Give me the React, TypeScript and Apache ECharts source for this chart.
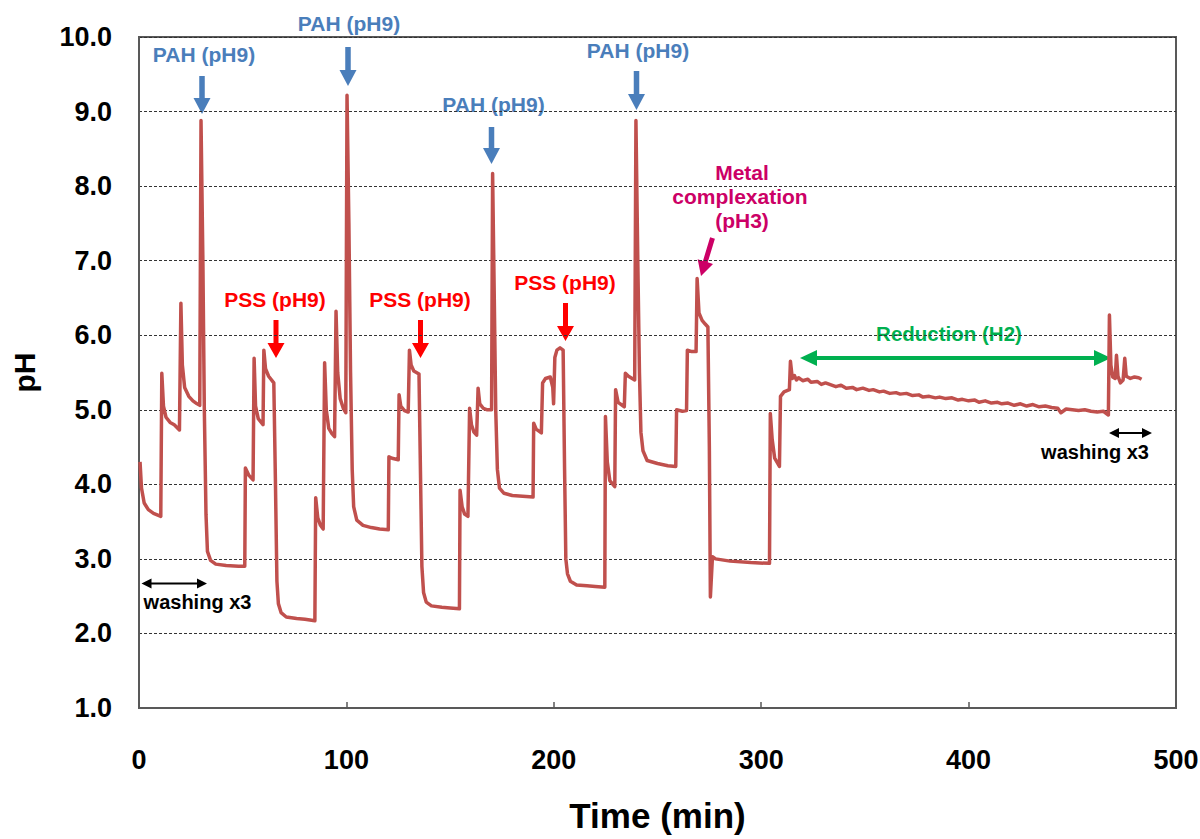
import React, { useEffect, useRef } from "react";
import * as echarts from "echarts";

// ---- data (time in min, pH) ----
const time = [
  0.5, 1.2, 2.5, 4.5, 7, 10.5,
  11.0, 11.8, 13, 15, 17, 19.5,
  20.2, 20.9, 22, 24, 26, 28, 29.3,
  29.9, 30.8, 31.5, 32.3, 33, 34.5, 37, 42, 48, 51.0,
  51.3, 53, 55,
  55.5, 56.2, 57.5, 59.8,
  60.2, 61, 62.5, 65,
  65.8, 66.5, 67.2, 68.5, 71, 76, 80, 84.8,
  85.2, 86.2, 87.5, 88.8,
  89.5, 90.3, 91.5, 93, 94.3,
  95.0, 95.8, 97, 98.5, 99.7,
  100.3, 101.2, 102, 102.8, 103.5, 105, 108, 112, 116, 120.2,
  120.5, 122, 125,
  125.4, 126.2, 128, 129.8,
  130.4, 131.2, 132.5, 135,
  135.8, 136.4, 137.2, 138.5, 141, 146, 150, 154.5,
  154.8, 155.8, 157, 158.6,
  159.4, 160.3, 161.5, 162.8,
  163.5, 164.3, 166, 168, 170,
  170.5, 171.3, 172, 172.8, 173.8, 176, 180, 185, 190,
  190.3, 191.5, 194,
  194.6, 196, 198.3, 199.5, 199.9, 200.5, 201.5, 203, 204.5,
  205.2, 205.8, 206.6, 208, 211, 216, 220, 224.6,
  224.9, 225.8, 227, 229.4,
  229.8, 231, 234,
  234.5, 236, 239,
  239.6, 240.5, 241.3, 242, 243, 245, 250, 255, 258.8,
  259.2, 262, 264,
  264.4, 266.5, 268.6,
  269.1, 270, 271.5, 273, 274.3,
  275, 275.5, 276.5, 278, 285, 295, 304,
  304.4, 305.3, 306.5, 308.8,
  309.3, 311, 313.6,
  314.1, 315, 316, 317,
  318, 320, 322.5, 324, 327, 329, 331, 334, 336, 338.5, 341, 344, 346, 349, 352,
  354, 357, 359, 362, 365, 367, 370, 373, 376, 378, 381, 384, 386, 389, 392,
  395, 397, 400, 403, 405, 408, 411, 414, 416, 419, 422, 425, 428, 431, 434,
  437, 440, 443, 444.5, 447, 450, 453, 456, 459, 462, 465, 467.4,
  467.9, 468.6, 469.5, 470.7, 471.3, 472.0, 473.2, 474.5, 475.3, 476, 478, 480, 482, 483.4,
];

const ph = [
  4.30, 3.95, 3.75, 3.66, 3.61, 3.57,
  5.49, 5.05, 4.90, 4.83, 4.80, 4.73,
  6.43, 5.60, 5.30, 5.18, 5.12, 5.08, 5.06,
  8.88, 7.0, 5.0, 3.6, 3.1, 2.98, 2.93, 2.91, 2.90, 2.90,
  4.22, 4.12, 4.06,
  5.69, 5.05, 4.88, 4.80,
  5.80, 5.55, 5.45, 5.36,
  4.0, 2.7, 2.40, 2.28, 2.22, 2.20, 2.19, 2.17,
  3.82, 3.55, 3.45, 3.40,
  5.63, 5.0, 4.75, 4.68, 4.64,
  6.32, 5.50, 5.15, 5.02, 4.96,
  9.22, 7.5, 5.5, 4.2, 3.70, 3.52, 3.45, 3.42, 3.40, 3.39,
  4.37, 4.35, 4.33,
  5.20, 5.05, 4.99, 4.97,
  5.80, 5.60, 5.52, 5.48,
  4.0, 2.9, 2.55, 2.42, 2.37, 2.35, 2.34, 2.33,
  3.92, 3.70, 3.60, 3.57,
  5.02, 4.80, 4.70, 4.66,
  5.29, 5.08, 5.02, 5.00, 5.00,
  8.17, 6.5, 5.0, 4.2, 3.95, 3.88, 3.85, 3.84, 3.83,
  4.82, 4.74, 4.69,
  5.36, 5.42, 5.44, 5.30, 5.08, 5.70, 5.80, 5.83, 5.80,
  4.2, 3.0, 2.80, 2.70, 2.65, 2.64, 2.63, 2.62,
  4.91, 4.3, 4.05, 3.97,
  5.27, 5.10, 5.04,
  5.49, 5.45, 5.40,
  8.88, 7.0, 5.5, 4.7, 4.45, 4.32, 4.28, 4.25, 4.24,
  5.00, 4.98, 4.99,
  5.80, 5.78, 5.78,
  6.76, 6.30, 6.20, 6.15, 6.11,
  4.5, 2.49, 3.03, 3.00, 2.97, 2.95, 2.94,
  4.95, 4.6, 4.35, 4.24,
  5.18, 5.24, 5.27,
  5.65, 5.42, 5.46, 5.40,
  5.43, 5.39, 5.41, 5.37, 5.38, 5.34, 5.36, 5.33, 5.31, 5.33, 5.29, 5.30, 5.27, 5.29, 5.26,
  5.27, 5.24, 5.25, 5.22, 5.23, 5.21, 5.22, 5.19, 5.20, 5.17, 5.18, 5.16, 5.17, 5.15, 5.16,
  5.13, 5.14, 5.12, 5.13, 5.10, 5.12, 5.09, 5.10, 5.08, 5.09, 5.06, 5.08, 5.05, 5.07, 5.04,
  5.05, 5.03, 5.02, 4.96, 5.01, 5.00, 4.99, 5.00, 4.98, 4.97, 4.98, 4.93,
  6.27, 5.6, 5.44, 5.42, 5.73, 5.45, 5.36, 5.40, 5.69, 5.45, 5.42, 5.44, 5.43, 5.41,
];

const xTicks = [0, 100, 200, 300, 400, 500];
const yTicks = [1, 2, 3, 4, 5, 6, 7, 8, 9, 10];

const BLUE = "#4A7EBB";
const RED = "#FF0000";
const MAGENTA = "#CC0066";
const GREEN = "#00B050";
const LINE = "#C0504D";
const FONT = "'Liberation Sans', Arial, sans-serif";

function arrow(x1: number, y1: number, x2: number, y2: number, color: string, shaft: number, headW: number, headL: number) {
  const dx = x2 - x1, dy = y2 - y1;
  const L = Math.hypot(dx, dy);
  const ux = dx / L, uy = dy / L;
  const nx = -uy, ny = ux;
  const bx = x2 - ux * headL, by = y2 - uy * headL;
  const pts = [
    [x1 + nx * shaft / 2, y1 + ny * shaft / 2],
    [bx + nx * shaft / 2, by + ny * shaft / 2],
    [bx + nx * headW / 2, by + ny * headW / 2],
    [x2, y2],
    [bx - nx * headW / 2, by - ny * headW / 2],
    [bx - nx * shaft / 2, by - ny * shaft / 2],
    [x1 - nx * shaft / 2, y1 - ny * shaft / 2],
  ];
  return { type: "polygon", silent: true, shape: { points: pts }, style: { fill: color } };
}

function dblArrow(x1: number, x2: number, y: number, color: string, shaft: number, headW: number, headL: number) {
  const pts = [
    [x1, y],
    [x1 + headL, y - headW / 2],
    [x1 + headL, y - shaft / 2],
    [x2 - headL, y - shaft / 2],
    [x2 - headL, y - headW / 2],
    [x2, y],
    [x2 - headL, y + headW / 2],
    [x2 - headL, y + shaft / 2],
    [x1 + headL, y + shaft / 2],
    [x1 + headL, y + headW / 2],
  ];
  return { type: "polygon", silent: true, shape: { points: pts }, style: { fill: color } };
}

function label(text: string, x: number, y: number, color: string, size: number) {
  return {
    type: "text",
    silent: true,
    x,
    y,
    style: {
      text,
      fill: color,
      font: `bold ${size}px ${FONT}`,
      textAlign: "center",
      textVerticalAlign: "middle",
      align: "center",
      verticalAlign: "middle",
    },
  };
}

export default function App() {
  const ref = useRef<HTMLDivElement>(null);

  useEffect(() => {
    if (!ref.current) return;
    const chart = echarts.init(ref.current, undefined, { renderer: "svg" });
    const data = time.map((t, i) => [t, ph[i]]);

    const graphics: any[] = [
      // PAH arrows & labels
      label("PAH (pH9)", 204, 54, BLUE, 21),
      arrow(202, 76, 202, 114, BLUE, 5.5, 17, 16),
      label("PAH (pH9)", 349, 23, BLUE, 21),
      arrow(348, 47, 348, 86, BLUE, 5.5, 17, 16),
      label("PAH (pH9)", 493.5, 104, BLUE, 21),
      arrow(491.5, 127, 491.5, 164, BLUE, 5.5, 17, 16),
      label("PAH (pH9)", 638, 50, BLUE, 21),
      arrow(636.5, 71, 636.5, 110, BLUE, 5.5, 17, 16),
      // PSS
      label("PSS (pH9)", 275, 299, RED, 21),
      arrow(276, 320, 276, 358, RED, 5, 17, 15),
      label("PSS (pH9)", 420, 299, RED, 21),
      arrow(420.5, 320, 420.5, 358, RED, 5, 17, 15),
      label("PSS (pH9)", 565, 282, RED, 21),
      arrow(565.5, 303, 565.5, 341, RED, 5, 17, 15),
      // Metal complexation
      label("Metal", 742, 172, MAGENTA, 21),
      label("complexation", 740, 196, MAGENTA, 21),
      label("(pH3)", 742, 220, MAGENTA, 21),
      arrow(712.5, 238, 701, 276, MAGENTA, 5, 16, 15),
      // Reduction
      label("Reduction (H2)", 949, 333, GREEN, 20.5),
      dblArrow(800, 1111, 358, GREEN, 4, 16, 17),
      // washing
      dblArrow(141.5, 207, 583.5, "#000000", 2, 10, 10),
      label("washing x3", 197.5, 602, "#000000", 20),
      dblArrow(1109, 1152, 433, "#000000", 2, 10, 10),
      label("washing x3", 1095, 452, "#000000", 20),
    ];

    chart.setOption({
      animation: false,
      backgroundColor: "#ffffff",
      grid: {
        left: 139,
        top: 37,
        right: 24,
        bottom: 131,
        show: true,
        borderColor: "#595959",
        borderWidth: 2,
        containLabel: false,
        outerBoundsMode: "none",
      },
      xAxis: {
        type: "value",
        min: xTicks[0],
        max: xTicks[xTicks.length - 1],
        interval: 100,
        name: "Time (min)",
        nameLocation: "middle",
        nameGap: 90,
        nameTextStyle: {
          fontFamily: FONT,
          fontWeight: "bold",
          fontSize: 35,
          color: "#000",
        },
        axisLine: { show: true, lineStyle: { color: "#595959", width: 2 } },
        axisTick: { show: true, inside: true, length: 6, lineStyle: { color: "#595959", width: 1.5 } },
        splitLine: { show: false },
        axisLabel: {
          margin: 38,
          fontFamily: FONT,
          fontWeight: "bold",
          fontSize: 27,
          color: "#000",
        },
      },
      yAxis: {
        type: "value",
        min: yTicks[0],
        max: yTicks[yTicks.length - 1],
        interval: 1,
        name: "pH",
        nameLocation: "middle",
        nameGap: 100,
        nameRotate: 90,
        nameTextStyle: { fontFamily: FONT, fontWeight: "bold", fontSize: 30, color: "#000" },
        axisLine: { show: true, lineStyle: { color: "#595959", width: 2 } },
        axisTick: { show: false },
        splitLine: { show: true, lineStyle: { color: "#333", width: 1, type: [3, 2] } },
        axisLabel: {
          margin: 27,
          formatter: (v: number) => v.toFixed(1),
          fontFamily: FONT,
          fontWeight: "bold",
          fontSize: 27,
          color: "#000",
        },
      },
      series: [
        {
          type: "line",
          data,
          showSymbol: false,
          symbol: "none",
          lineStyle: { color: LINE, width: 3.5, join: "round" },
          itemStyle: { color: LINE },
          clip: true,
        },
      ],
      graphic: graphics,
    });

    return () => chart.dispose();
  }, []);

  return (
    <div
      ref={ref}
      style={{ position: "absolute", left: 0, top: 0, width: 1200, height: 839, background: "#fff" }}
    />
  );
}
